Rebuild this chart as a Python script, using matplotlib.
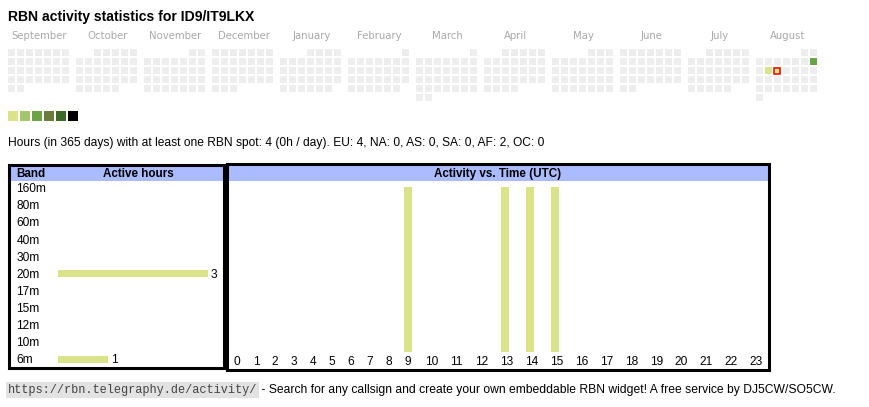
import calendar
import matplotlib.pyplot as plt
from matplotlib.patches import Rectangle

# Data
title = "RBN activity statistics for ID9/IT9LKX"
months = ['September', 'October', 'November', 'December', 'January', 'February',
          'March', 'April', 'May', 'June', 'July', 'August']
month_years = [2024, 2024, 2024, 2024, 2025, 2025, 2025, 2025, 2025, 2025, 2025, 2025]
month_nums = [9, 10, 11, 12, 1, 2, 3, 4, 5, 6, 7, 8]
# (month, day) -> colour level index
active_days = {(8, 9): 2, (8, 11): 0, (8, 12): 0}
today = (8, 12)
level_colors = ['#dae28a', '#a2c66b', '#6ca346', '#6a7d3c', '#3e6a29', '#000000']

summary = ("Hours (in 365 days) with at least one RBN spot: 4 (0h / day). "
           "EU: 4, NA: 0, AS: 0, SA: 0, AF: 2, OC: 0")

bands = ['160m', '80m', '60m', '40m', '30m', '20m', '17m', '15m', '12m', '10m', '6m']
band_hours = [0, 0, 0, 0, 0, 3, 0, 0, 0, 0, 1]

hours = list(range(24))
hour_active = [0, 0, 0, 0, 0, 0, 0, 0, 0, 1, 0, 0, 0, 1, 1, 1, 0, 0, 0, 0, 0, 0, 0, 0]

footer_url = "https://rbn.telegraphy.de/activity/"
footer_text = (" - Search for any callsign and create your own embeddable RBN widget! "
               "A free service by DJ5CW/SO5CW.")

sans = ['Liberation Sans', 'DejaVu Sans']
bar_color = level_colors[0]

fig = plt.figure(figsize=(8.7, 4.07), dpi=100)
ax = fig.add_axes([0, 0, 1, 1])
ax.set_xlim(0, 870)
ax.set_ylim(407, 0)
ax.axis('off')

# Title
ax.text(8, 21, title, fontsize=10.05, fontweight='bold', family=sans, va='baseline')

# Calendar heatmap (weeks start on Sunday)
cal = calendar.Calendar(firstweekday=6)
for i, (name, yr, mo) in enumerate(zip(months, month_years, month_nums)):
    x0 = 8 + i * 68
    ax.text(x0 + 31.5, 39, name, fontsize=7.3, color='#a8a8a8', ha='center',
            va='baseline', family='DejaVu Sans')
    for r, week in enumerate(cal.monthdayscalendar(yr, mo)):
        for c, day in enumerate(week):
            if day == 0:
                continue
            lvl = active_days.get((mo, day))
            fc = '#eeeeee' if lvl is None else level_colors[lvl]
            ax.add_patch(Rectangle((x0 + c * 9, 49 + r * 9), 7, 7, fc=fc, ec='none'))
            if (mo, day) == today:
                ax.add_patch(Rectangle((x0 + c * 9 + 0.5, 49 + r * 9 + 0.5), 6, 6,
                                       fc='none', ec='#ee0000', lw=1.1))

# Legend swatches
for k, col in enumerate(level_colors):
    ax.add_patch(Rectangle((8 + k * 12, 111), 10, 10, fc=col, ec='none'))

ax.text(8, 146, summary, fontsize=8.66, family=sans, va='baseline')

# Left table: band / active hours
ax.add_patch(Rectangle((9, 165), 215, 16, fc='#aabbff', ec='none'))
ax.add_patch(Rectangle((9, 164.5), 215, 203.5, fc='none', ec='black', lw=2.2))
ax.text(16.5, 177, 'Band', fontsize=8.4, fontweight='bold', family=sans, va='baseline')
ax.text(138, 177, 'Active hours', fontsize=8.4, fontweight='bold', family=sans,
        ha='center', va='baseline')
band_y = [188.3 + i * 17.07 for i in range(len(bands))]
ax.barh(band_y, [h * 50 for h in band_hours], left=58, height=7, color=bar_color)
for y, b, h in zip(band_y, bands, band_hours):
    ax.text(16.5, y + 4, b, fontsize=8.6, family=sans, va='baseline')
    if h:
        ax.text(58 + h * 50 + 3, y + 4, str(h), fontsize=8.6, family=sans, va='baseline')

# Right table: activity vs time
ax.add_patch(Rectangle((227, 165), 542, 16, fc='#aabbff', ec='none'))
ax.add_patch(Rectangle((227, 164), 542, 205.5, fc='none', ec='black', lw=2.2))
ax.text(498, 177, 'Activity vs. Time (UTC)', fontsize=8.4, fontweight='bold', family=sans,
        ha='center', va='baseline')
widths = [19 if h < 10 else 25 for h in hours]
hour_x = []
edge = 227.5
for w in widths:
    hour_x.append(edge + w / 2)
    edge += w
ax.bar(hour_x, [a * 165 for a in hour_active], bottom=187, width=8, color=bar_color)
for x, h in zip(hour_x, hours):
    ax.text(x + (1.5 if h >= 10 else 0), 365, str(h), fontsize=8.6, family=sans,
            ha='center', va='baseline')

# Footer
t = ax.text(8, 393, footer_url, fontsize=8.6, family='Liberation Mono', color='#444444',
            va='baseline', bbox=dict(fc='#e2e2e2', ec='none', pad=1.2))
fig.canvas.draw()
bb = t.get_window_extent().transformed(ax.transData.inverted())
ax.text(bb.x1 + 1, 393, footer_text, fontsize=8.7, family=sans, va='baseline')

fig.savefig('out.png', dpi=100)
